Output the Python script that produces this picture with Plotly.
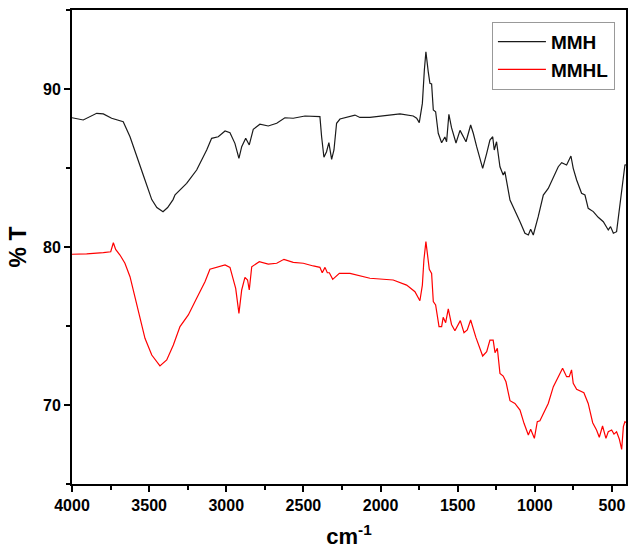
import plotly.graph_objects as go

# MMH spectrum (wavenumber cm-1, %T)
mmh_wn = [4000, 3927, 3840, 3797, 3743, 3668, 3624, 3581, 3527, 3483, 3450, 3410, 3380, 3345, 3332,
          3257, 3192, 3127, 3095, 3052, 3008, 2976, 2944, 2918, 2900, 2874, 2851, 2825, 2782, 2728,
          2673, 2620, 2566, 2490, 2393, 2382, 2367, 2350, 2335, 2317, 2302, 2285, 2263, 2166, 2134,
          2069, 1982, 1874, 1788, 1766, 1749, 1729, 1716, 1706, 1691, 1680, 1669, 1658, 1643, 1626,
          1604, 1594, 1583, 1572, 1557, 1540, 1511, 1485, 1464, 1446, 1416, 1399, 1377, 1338, 1312,
          1291, 1273, 1263, 1248, 1226, 1205, 1194, 1161, 1129, 1096, 1064, 1042, 1027, 1010, 978,
          945, 913, 880, 848, 826, 794, 766, 751, 729, 697, 675, 654, 621, 589, 556,
          524, 509, 491, 470, 448, 431, 416, 409]
mmh_t = [88.18, 88.04, 88.46, 88.42, 88.15, 87.93, 86.98, 85.72, 84.24, 83.0, 82.5, 82.23, 82.5, 83.0, 83.3,
         84.03, 84.87, 86.14, 86.88, 86.98, 87.34, 87.23, 86.56, 85.61, 86.35, 86.88, 86.46, 87.45, 87.77, 87.66,
         87.83, 88.18, 88.15, 88.29, 88.25, 86.98, 85.68, 86.03, 86.6, 85.55, 86.14, 87.83, 88.1, 88.35, 88.2,
         88.2, 88.29, 88.42, 88.29, 88.15, 87.87, 89.09, 91.2, 92.36, 91.1, 90.36, 90.32, 88.67, 88.56, 87.2,
         86.6, 86.77, 86.96, 86.66, 88.4, 87.55, 86.58, 87.38, 86.98, 86.66, 87.72, 87.2, 86.35, 84.98, 85.93,
         86.77, 86.98, 86.14, 86.66, 85.08, 84.56, 84.77, 82.97, 82.34, 81.6, 80.87, 80.76, 81.12, 80.76, 81.92,
         83.29, 83.71, 84.45, 85.08, 85.34, 85.19, 85.76, 84.98, 84.24, 83.4, 83.29, 82.45, 82.24, 81.88, 81.6,
         81.08, 81.29, 80.87, 80.97, 82.77, 83.82, 85.19, 85.2]

# MMHL spectrum
mmhl_wn = [4000, 3905, 3797, 3749, 3732, 3717, 3689, 3657, 3624, 3592, 3559, 3527, 3483, 3430, 3386,
           3343, 3300, 3246, 3192, 3138, 3106, 3062, 3008, 2976, 2954, 2939, 2918, 2900, 2879, 2862,
           2851, 2835, 2786, 2728, 2673, 2626, 2566, 2501, 2436, 2393, 2378, 2360, 2345, 2332, 2310,
           2267, 2198, 2069, 1918, 1831, 1777, 1756, 1745, 1729, 1719, 1706, 1695, 1684, 1669, 1658,
           1643, 1621, 1604, 1594, 1578, 1561, 1540, 1518, 1483, 1459, 1438, 1416, 1382, 1338, 1312,
           1291, 1270, 1258, 1243, 1226, 1205, 1187, 1161, 1129, 1096, 1070, 1042, 1027, 1003, 984,
           967, 945, 913, 880, 859, 837, 820, 794, 777, 762, 751, 729, 703, 682, 654,
           625, 600, 582, 561, 539, 524, 502, 487, 470, 452, 437, 426, 416, 409]
mmhl_t = [79.54, 79.56, 79.64, 79.7, 80.27, 79.85, 79.49, 78.97, 78.12, 76.85, 75.38, 74.22, 73.16, 72.47, 72.85,
          73.8, 74.96, 75.7, 76.75, 77.8, 78.59, 78.71, 78.86, 78.71, 77.8, 77.38, 75.8, 77.28, 78.08, 77.91,
          77.28, 78.75, 79.07, 78.92, 78.97, 79.22, 79.03, 78.97, 78.8, 78.71, 78.37, 78.71, 78.37, 78.37, 77.95,
          78.33, 78.33, 78.02, 77.91, 77.59, 77.17, 76.85, 76.6, 77.59, 79.18, 80.34, 79.39, 78.59, 78.33, 76.54,
          76.33, 74.96, 74.96, 75.55, 75.21, 76.08, 75.1, 74.7, 75.34, 74.58, 74.75, 75.38, 74.28, 73.1, 73.37,
          74.11, 74.11, 73.31, 73.59, 72.0, 71.83, 71.47, 70.27, 70.1, 69.68, 68.84, 68.1, 68.46, 67.89, 68.94,
          69.0, 69.47, 70.1, 71.16, 71.58, 72.0, 72.32, 71.79, 71.79, 72.22, 71.37, 70.99, 70.9, 70.78, 70.1,
          68.88, 68.42, 67.96, 68.67, 67.89, 68.31, 68.42, 68.16, 68.31, 67.83, 67.19, 68.63, 68.94, 68.9]

x_ticks = [4000, 3500, 3000, 2500, 2000, 1500, 1000, 500]
y_ticks = [70, 80, 90]

FONT = "Liberation Sans, Arial, sans-serif"

fig = go.Figure()
fig.add_trace(go.Scatter(x=mmh_wn, y=mmh_t, mode="lines", name="MMH",
                         line=dict(color="#1a1a1a", width=1.2)))
fig.add_trace(go.Scatter(x=mmhl_wn, y=mmhl_t, mode="lines", name="MMHL",
                         line=dict(color="#ff0000", width=1.2)))

axis_common = dict(showline=True, linecolor="black", linewidth=2, mirror=True,
                   ticks="outside", ticklen=6, tickwidth=2, tickcolor="black",
                   showgrid=False, zeroline=False, automargin=False,
                   tickfont=dict(family=FONT, size=16, color="black", weight="bold"))

fig.update_xaxes(range=[4000, 409], tickvals=x_ticks,
                 minor=dict(ticks="outside", ticklen=4, tickwidth=2, dtick=250, tick0=0, tickcolor="black"),
                 title=dict(text="cm<sup>-1</sup>", standoff=16,
                            font=dict(family=FONT, size=22, color="black", weight="bold")),
                 **axis_common)
fig.update_yaxes(range=[65, 95], tickvals=y_ticks,
                 minor=dict(ticks="outside", ticklen=4, tickwidth=2, dtick=5, tick0=0, tickcolor="black"),
                 title=dict(text="% T", standoff=10,
                            font=dict(family=FONT, size=23, color="black", weight="bold")),
                 **axis_common)

fig.update_layout(
    width=629, height=549,
    margin=dict(l=72, r=3, t=10, b=65),
    plot_bgcolor="white", paper_bgcolor="white",
    legend=dict(x=0.758, y=0.975, xanchor="left", yanchor="top",
                bordercolor="#999999", borderwidth=1, bgcolor="white",
                font=dict(family=FONT, size=19, color="black", weight="bold"),
                tracegroupgap=0, itemwidth=48),
)

# remove the default 8px page margin so the 629x549 figure fills the window exactly
fig.write_html("out.html",
               config={"displayModeBar": False},
               post_script="document.body.style.margin='0';document.body.style.overflow='hidden';")
